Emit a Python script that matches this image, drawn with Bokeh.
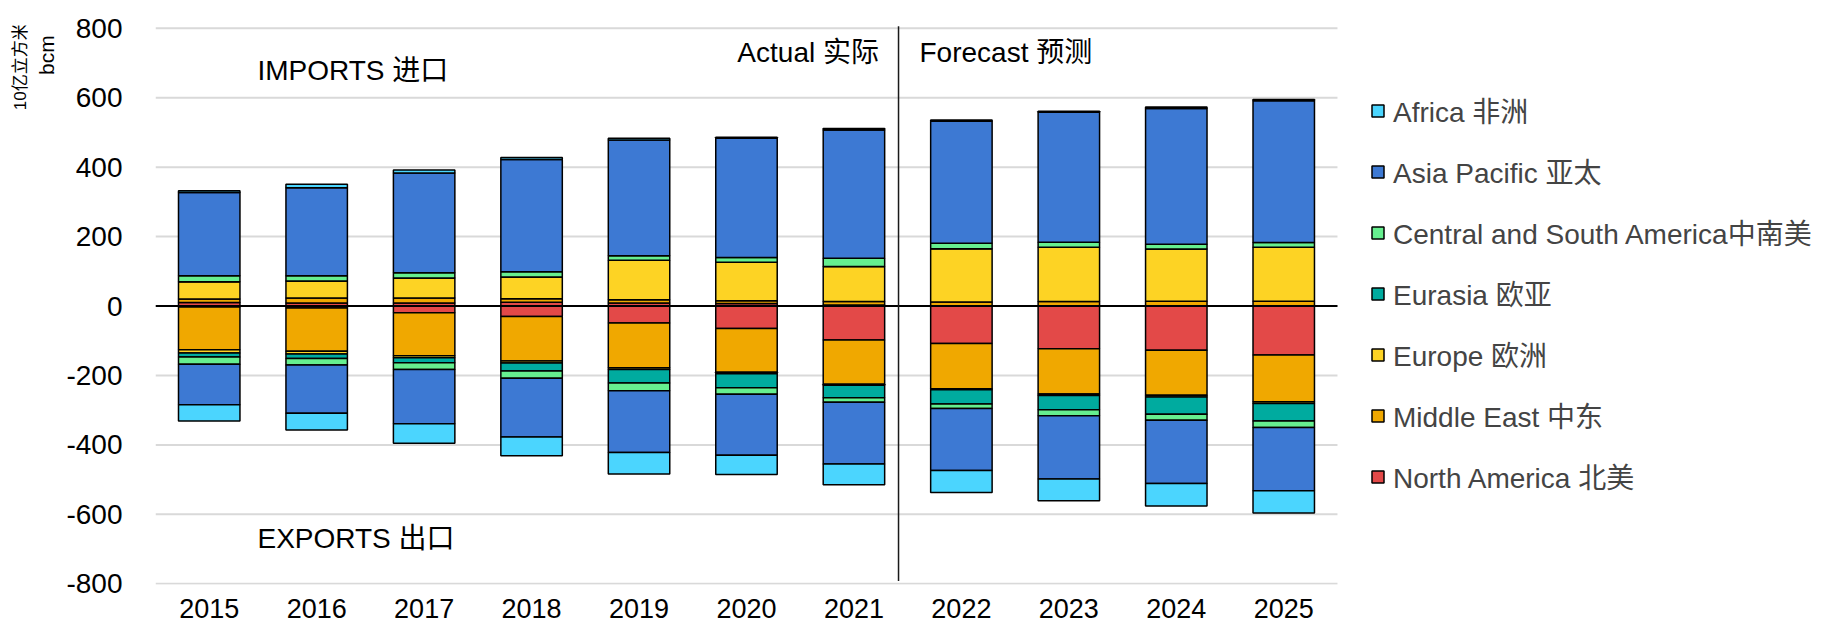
import math

from bokeh.embed import file_html
from bokeh.layouts import row
from bokeh.models import (ColumnDataSource, FixedTicker, Label, Legend,
                          LegendItem, Range1d)
from bokeh.plotting import figure
from bokeh.resources import INLINE

# ---------------------------------------------------------------------------
# LNG trade by region, bcm (imports positive, exports negative)
# ---------------------------------------------------------------------------
years = ["2015", "2016", "2017", "2018", "2019", "2020",
         "2021", "2022", "2023", "2024", "2025"]

# stacking order (bottom of the stack first)
region_keys = ["na", "me", "europe", "eurasia", "csa", "ap", "africa"]
region_labels = {
    "africa": "Africa 非洲",
    "ap": "Asia Pacific 亚太",
    "csa": "Central and South America中南美",
    "eurasia": "Eurasia 欧亚",
    "europe": "Europe 欧洲",
    "me": "Middle East 中东",
    "na": "North America 北美",
}
legend_order = ["africa", "ap", "csa", "eurasia", "europe", "me", "na"]

imports_na      = [10, 9, 9, 11, 9, 7, 3, 1, 1, 1, 1]
imports_me      = [10, 14, 14, 10, 9, 8, 10, 11, 12, 13, 13]
imports_europe  = [50, 49, 58, 63, 114, 111, 101, 153, 156, 150, 155]
imports_eurasia = [0, 0, 0, 0, 0, 0, 0, 0, 0, 0, 0]
imports_csa     = [17, 15, 15, 15, 13, 14, 24, 16, 15, 14, 14]
imports_ap      = [240, 254, 287, 323, 333, 343, 369, 351, 374, 391, 408]
imports_africa  = [5, 10, 9, 6, 5, 3, 4, 4, 3, 4, 4]

exports_na      = [3, 6, 19, 30, 49, 65, 98, 108, 123, 127, 141]
exports_me      = [123, 124, 124, 128, 129, 126, 127, 130, 130, 130, 135]
exports_europe  = [9, 8, 6, 6, 5, 4, 3, 3, 5, 5, 5]
exports_eurasia = [12, 13, 14, 23, 39, 40, 36, 41, 41, 50, 50]
exports_csa     = [21, 19, 20, 21, 22, 19, 13, 13, 17, 17, 19]
exports_ap      = [116, 139, 156, 169, 178, 176, 178, 179, 182, 182, 182]
exports_africa  = [47, 48, 56, 54, 62, 55, 60, 63, 63, 65, 64]

colors = {
    "africa": "#4BD5FE",
    "ap": "#3D79D3",
    "csa": "#66EF8F",
    "eurasia": "#00AB9F",
    "europe": "#FDD324",
    "me": "#F0A800",
    "na": "#E34948",
}

y_ticks = [-800, -600, -400, -200, 0, 200, 400, 600, 800]

FONT = "'Liberation Sans', 'Noto Sans CJK SC', sans-serif"
BAR_W = 0.572
DIVIDER_X = 6.415          # boundary between actual and forecast years
TITLE_W = 62               # width of the strip holding the unit title
HEIGHT = 623

imports = {"na": imports_na, "me": imports_me, "europe": imports_europe,
           "eurasia": imports_eurasia, "csa": imports_csa, "ap": imports_ap,
           "africa": imports_africa}
exports = {"na": exports_na, "me": exports_me, "europe": exports_europe,
           "eurasia": exports_eurasia, "csa": exports_csa, "ap": exports_ap,
           "africa": exports_africa}

n = len(years)
data = {"x": list(range(n))}
for k in region_keys:
    data["imp_" + k] = imports[k]
    data["exp_" + k] = [-v for v in exports[k]]
src = ColumnDataSource(data)

# ---------------------------------------------------------------------------
# unit title strip (rotated text, top-left)
# ---------------------------------------------------------------------------
t = figure(width=TITLE_W, height=HEIGHT,
           x_range=Range1d(0, TITLE_W), y_range=Range1d(HEIGHT, 0),
           output_backend="svg", toolbar_location=None,
           x_axis_location=None, y_axis_location=None,
           min_border=0)
t.outline_line_color = None
t.grid.visible = False
for x, y, txt, size in [(20, 46, "10亿立方米", "17px"), (46, 33, "bcm", "21px")]:
    t.add_layout(Label(x=x, y=y, text=txt, text_font=FONT, text_font_size=size,
                       text_align="center", text_baseline="middle",
                       text_color="black", angle=math.pi / 2))

# ---------------------------------------------------------------------------
# main chart
# ---------------------------------------------------------------------------
p = figure(width=1832 - TITLE_W, height=HEIGHT,
           x_range=Range1d(-0.5, -0.5 + 15.607),
           y_range=Range1d(-802, 808),
           output_backend="svg", toolbar_location=None,
           min_border_left=155 - TITLE_W, min_border_right=0,
           min_border_top=25, min_border_bottom=39)
p.outline_line_color = None
p.xgrid.visible = False
p.ygrid.visible = False

# horizontal gridlines only across the year columns
p.segment(x0=[-0.5] * len(y_ticks), y0=y_ticks,
          x1=[n - 0.5] * len(y_ticks), y1=y_ticks,
          line_color="#D9D9D9", line_width=2)

fills = [colors[k] for k in region_keys]
imp_r = p.vbar_stack(["imp_" + k for k in region_keys], x="x", width=BAR_W,
                     fill_color=fills, line_color="black", line_width=1.5,
                     source=src)
p.vbar_stack(["exp_" + k for k in region_keys], x="x", width=BAR_W,
             fill_color=fills, line_color="black", line_width=1.5,
             source=src)

# zero line
p.segment(x0=[-0.5], y0=[0], x1=[n - 0.5], y1=[0],
          line_color="black", line_width=2)

# actual / forecast divider
p.segment(x0=[DIVIDER_X], y0=[806], x1=[DIVIDER_X], y1=[-792],
          line_color="#1a1a1a", line_width=1.5)

# axes
p.xaxis.ticker = FixedTicker(ticks=list(range(n)))
p.xaxis.major_label_overrides = {i: y for i, y in enumerate(years)}
p.yaxis.ticker = FixedTicker(ticks=y_ticks)
p.yaxis.major_label_overrides = {v: str(v) for v in y_ticks}
for ax in (p.xaxis[0], p.yaxis[0]):
    ax.axis_line_color = None
    ax.major_tick_line_color = None
    ax.minor_tick_line_color = None
    ax.major_label_text_color = "black"
p.xaxis.major_label_text_font = FONT
p.yaxis.major_label_text_font = "Liberation Sans"
p.xaxis.major_label_text_font_size = "27px"
p.yaxis.major_label_text_font_size = "28px"
p.xaxis.major_label_standoff = 8
p.yaxis.major_tick_out = 0
p.yaxis.major_tick_in = 0
p.yaxis.major_label_standoff = 33

# annotations
def add_label(x, y, text, align="left"):
    p.add_layout(Label(x=x, y=y, text=text, text_font=FONT,
                       text_font_size="28px", text_align=align,
                       text_baseline="middle", text_color="black"))

add_label(0.449, 677, "IMPORTS 进口")
add_label(0.449, -669, "EXPORTS 出口")
add_label(6.233, 730, "Actual 实际", align="right")
add_label(6.61, 730, "Forecast 预测")

# legend
items = [LegendItem(label=region_labels[k],
                    renderers=[imp_r[region_keys.index(k)]])
         for k in legend_order]
legend = Legend(items=items, location=(1215, 88),
                glyph_width=15, glyph_height=15, label_standoff=8,
                spacing=21, padding=0, margin=0, label_height=32,
                label_text_font=FONT, label_text_font_size="28px",
                border_line_alpha=0, background_fill_alpha=0)
p.add_layout(legend)

layout = row(t, p, spacing=0)
open("out.html", "w").write(file_html(layout, INLINE))
